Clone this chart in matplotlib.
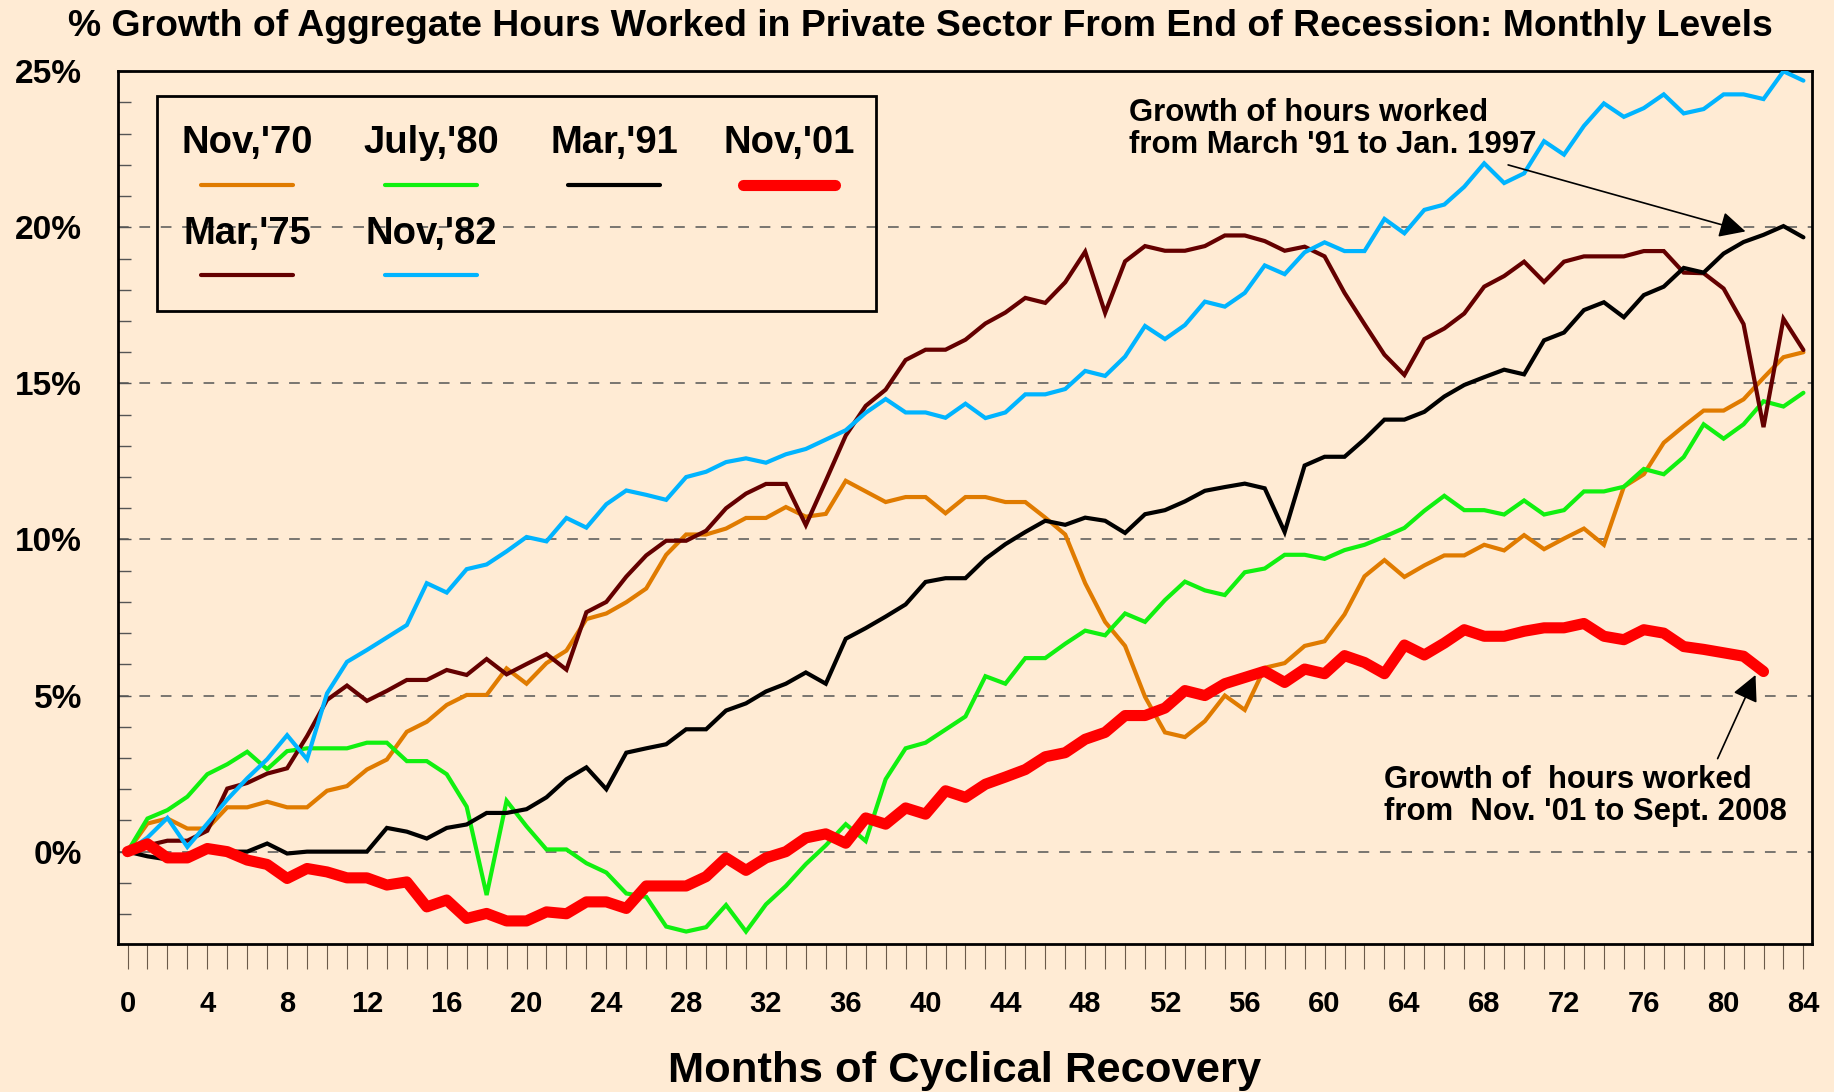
import numpy as np
import matplotlib
matplotlib.use("Agg")
import matplotlib.pyplot as plt
from matplotlib.lines import Line2D
from matplotlib.patches import Rectangle

plt.rcParams['font.family'] = ['Liberation Sans', 'DejaVu Sans']
plt.rcParams['font.weight'] = 'bold'

# --- data: % growth of aggregate hours worked, months 0..84 after recession end ---
months = np.arange(0, 85)

nov70 = [0, 0.9, 1.06, 0.74, 0.74, 1.42, 1.42, 1.6, 1.42, 1.42,
         1.95, 2.1, 2.63, 2.95, 3.84, 4.16, 4.7, 5.02, 5.02, 5.87,
         5.38, 6.04, 6.44, 7.45, 7.63, 7.99, 8.43, 9.51, 10.16, 10.16,
         10.35, 10.69, 10.69, 11.04, 10.73, 10.82, 11.88, 11.54, 11.2, 11.36,
         11.36, 10.84, 11.36, 11.36, 11.2, 11.2, 10.7, 10.16, 8.6, 7.36,
         6.59, 4.96, 3.82, 3.67, 4.18, 5.0, 4.54, 5.89, 6.04, 6.59,
         6.74, 7.6, 8.82, 9.34, 8.8, 9.17, 9.49, 9.49, 9.83, 9.65,
         10.14, 9.69, 10.03, 10.35, 9.83, 11.69, 12.09, 13.1, 13.63, 14.13,
         14.13, 14.49, 15.18, 15.84, 16.0]

mar75 = [0, 0.2, 0.35, 0.35, 0.67, 2.02, 2.2, 2.5, 2.67, 3.7,
         4.86, 5.32, 4.83, 5.15, 5.5, 5.5, 5.82, 5.66, 6.17, 5.68,
         6.01, 6.33, 5.83, 7.67, 8.0, 8.81, 9.49, 9.96, 9.96, 10.28,
         11.0, 11.47, 11.78, 11.78, 10.46, 11.88, 13.33, 14.28, 14.8, 15.75,
         16.08, 16.08, 16.4, 16.92, 17.27, 17.74, 17.58, 18.24, 19.22, 17.26,
         18.91, 19.4, 19.25, 19.25, 19.4, 19.74, 19.74, 19.56, 19.25, 19.38,
         19.07, 17.9, 16.9, 15.92, 15.27, 16.42, 16.76, 17.24, 18.1, 18.44,
         18.9, 18.25, 18.9, 19.07, 19.07, 19.07, 19.24, 19.24, 18.55, 18.53,
         18.04, 16.9, 13.6, 17.07, 16.07]

jul80 = [0, 1.06, 1.33, 1.76, 2.48, 2.8, 3.2, 2.64, 3.22, 3.31,
         3.31, 3.31, 3.49, 3.49, 2.9, 2.9, 2.48, 1.44, -1.39, 1.63,
         0.81, 0.07, 0.07, -0.37, -0.67, -1.34, -1.45, -2.4, -2.56, -2.42,
         -1.71, -2.56, -1.69, -1.1, -0.4, 0.2, 0.88, 0.34, 2.32, 3.31,
         3.49, 3.91, 4.33, 5.62, 5.38, 6.2, 6.2, 6.66, 7.08, 6.93,
         7.63, 7.36, 8.06, 8.65, 8.37, 8.22, 8.95, 9.07, 9.51, 9.51,
         9.38, 9.66, 9.83, 10.09, 10.37, 10.92, 11.4, 10.94, 10.94, 10.8,
         11.25, 10.8, 10.94, 11.54, 11.54, 11.69, 12.26, 12.09, 12.64, 13.69,
         13.23, 13.69, 14.43, 14.26, 14.7]

nov82 = [0, 0.45, 1.08, 0.15, 0.9, 1.67, 2.35, 2.96, 3.73, 2.96,
         5.07, 6.08, 6.46, 6.86, 7.26, 8.6, 8.3, 9.05, 9.2, 9.62,
         10.08, 9.94, 10.69, 10.38, 11.13, 11.57, 11.43, 11.27, 12.0, 12.17,
         12.48, 12.6, 12.46, 12.73, 12.9, 13.2, 13.5, 14.06, 14.5, 14.07,
         14.07, 13.9, 14.35, 13.89, 14.07, 14.65, 14.65, 14.82, 15.4, 15.24,
         15.86, 16.84, 16.42, 16.87, 17.62, 17.46, 17.9, 18.78, 18.5, 19.2,
         19.52, 19.24, 19.24, 20.27, 19.81, 20.56, 20.73, 21.3, 22.05, 21.42,
         21.73, 22.76, 22.33, 23.25, 23.97, 23.54, 23.82, 24.26, 23.65, 23.79,
         24.26, 24.26, 24.11, 25.0, 24.7]

mar91 = [0, -0.15, -0.25, -0.1, 0.0, 0.0, 0.0, 0.26, -0.06, 0.0,
         0.0, 0.0, 0.0, 0.76, 0.64, 0.42, 0.76, 0.87, 1.24, 1.24,
         1.36, 1.74, 2.32, 2.7, 2.0, 3.17, 3.31, 3.44, 3.92, 3.92,
         4.52, 4.75, 5.13, 5.38, 5.74, 5.38, 6.82, 7.16, 7.53, 7.92,
         8.64, 8.76, 8.76, 9.38, 9.85, 10.24, 10.6, 10.47, 10.7, 10.6,
         10.21, 10.81, 10.94, 11.22, 11.56, 11.68, 11.79, 11.64, 10.24, 12.37,
         12.65, 12.65, 13.21, 13.84, 13.84, 14.09, 14.58, 14.95, 15.2, 15.44,
         15.29, 16.38, 16.63, 17.35, 17.6, 17.12, 17.83, 18.1, 18.7, 18.55,
         19.16, 19.53, 19.76, 20.04, 19.68]

# Nov '01 recovery only runs to month 82 (Sept. 2008)
nov01 = [0, 0.25, -0.2, -0.2, 0.1, 0.0, -0.27, -0.41, -0.86, -0.54,
         -0.65, -0.84, -0.84, -1.07, -0.97, -1.77, -1.55, -2.14, -1.98, -2.22,
         -2.22, -1.93, -1.99, -1.61, -1.61, -1.82, -1.1, -1.1, -1.1, -0.8,
         -0.2, -0.6, -0.2, 0.0, 0.44, 0.57, 0.27, 1.08, 0.88, 1.4,
         1.2, 1.95, 1.74, 2.16, 2.39, 2.63, 3.04, 3.17, 3.6, 3.82,
         4.36, 4.36, 4.6, 5.16, 5.0, 5.38, 5.58, 5.78, 5.42, 5.85,
         5.7, 6.28, 6.06, 5.7, 6.62, 6.3, 6.68, 7.11, 6.9, 6.9,
         7.06, 7.17, 7.17, 7.31, 6.9, 6.79, 7.11, 7.0, 6.57, 6.48,
         6.37, 6.26, 5.77]

labels = ["Nov,'70", "July,'80", "Mar,'91", "Nov,'01", "Mar,'75", "Nov,'82"]
series = [nov70, jul80, mar91, nov01, mar75, nov82]
colors = ['#e07b00', '#10f010', '#000000', '#ff0000', '#640000', '#00b4ff']
widths = [3.0, 3.0, 3.0, 8.0, 3.0, 3.0]
zorders = [3, 4, 7, 8, 5, 6]

bg = '#ffebd4'

fig = plt.figure(figsize=(18.34, 10.92), dpi=100, facecolor=bg)
ax = fig.add_axes([0.0643, 0.1355, 0.9237, 0.7998])
ax.set_facecolor(bg)

# dashed reference lines
for g in [0, 5, 10, 15, 20]:
    ax.axhline(g, color='#555555', lw=1.1, ls=(0, (7, 7)), zorder=1)

for lab, ys, c, w, z in zip(labels, series, colors, widths, zorders):
    ax.plot(months[:len(ys)], ys, color=c, lw=w, zorder=z,
            solid_joinstyle='miter' if w < 5 else 'round',
            solid_capstyle='round')

ax.set_xlim(-0.48, 84.43)
ax.set_ylim(-2.96, 25.02)

# x axis: a tick for every month, label every 4th
ax.set_xticks(months)
ax.set_xticklabels([str(m) if m % 4 == 0 else '' for m in months])
ax.tick_params(axis='x', direction='out', length=18, width=0.8,
               color='#6b5a4a', pad=15, labelsize=21)

ax.set_yticks([0, 5, 10, 15, 20, 25])
ax.set_yticklabels(['0%', '5%', '10%', '15%', '20%', '25%'])
ax.set_yticks(np.arange(-2, 25), minor=True)
ax.tick_params(axis='y', which='both', direction='in', length=9.5, width=1,
               color='#555555', pad=26, labelsize=24)

for s in ax.spines.values():
    s.set_linewidth(2.0)

fig.text(0.526, 0.00916, 'Months of Cyclical Recovery', ha='center', va='baseline',
         fontsize=31.3, fontweight='bold')
fig.text(0.502, 0.967, '% Growth of Aggregate Hours Worked in Private Sector '
         'From End of Recession: Monthly Levels',
         ha='center', va='baseline', fontsize=26.9, fontweight='bold')

# legend drawn by hand: label above a line sample, box around it
ax.add_patch(Rectangle((0.023, 0.7248), 0.4245, 0.2466, transform=ax.transAxes,
                       fill=False, lw=2.0, ec='black', zorder=9))
col_x = [0.0762, 0.1848, 0.2928, 0.3961, 0.0762, 0.1848]
row_txt = [0.9166, 0.9166, 0.9166, 0.9166, 0.8128, 0.8128]
row_line = [0.869, 0.869, 0.869, 0.869, 0.7665, 0.7665]
for lab, c, w, cx, ty, ly in zip(labels, colors, widths, col_x, row_txt, row_line):
    ax.text(cx, ty, lab, transform=ax.transAxes, ha='center', va='center',
            fontsize=27.5, fontweight='bold', zorder=10)
    ax.add_line(Line2D([cx - 0.0274, cx + 0.0274], [ly, ly], transform=ax.transAxes,
                       color=c, lw=w, solid_capstyle='round', zorder=10))

# annotations
ax.text(50.2, 23.15, "Growth of hours worked\nfrom March '91 to Jan. 1997",
        ha='left', va='center', fontsize=22.4, fontweight='bold', linespacing=1.1)
ax.annotate('', xy=(81.1, 19.87), xytext=(69.2, 22.0),
            arrowprops=dict(arrowstyle='-|>', color='black', lw=1.2,
                            mutation_scale=40, shrinkA=0, shrinkB=0), zorder=10)

ax.text(63.0, 1.79, "Growth of  hours worked\nfrom  Nov. '01 to Sept. 2008",
        ha='left', va='center', fontsize=22.4, fontweight='bold', linespacing=1.1)
ax.annotate('', xy=(81.6, 5.66), xytext=(79.7, 2.98),
            arrowprops=dict(arrowstyle='-|>', color='black', lw=1.2,
                            mutation_scale=40, shrinkA=0, shrinkB=0), zorder=10)

fig.savefig('out.png', dpi=100, facecolor=bg)
